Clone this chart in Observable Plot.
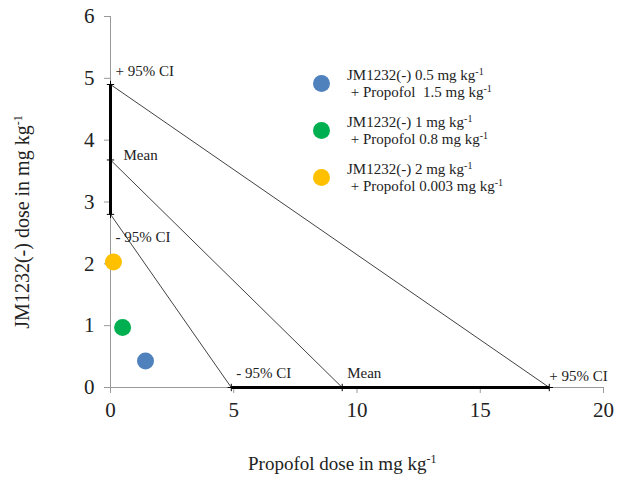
<!DOCTYPE html>
<html>
<head>
<meta charset="utf-8">
<script src="https://cdn.jsdelivr.net/npm/d3@7"></script>
<script src="https://cdn.jsdelivr.net/npm/@observablehq/plot@0.6"></script>
<style>
  body { margin: 0; background: #fff; }
  #wrap { position: relative; width: 617px; height: 477px; font-family: 'Liberation Serif', 'DejaVu Serif', serif; color: #222; }
  #wrap svg text { font-family: 'Liberation Serif', 'DejaVu Serif', serif !important; }
  #legend { position: absolute; left: 313px; top: 67px; font-size: 15px; line-height: 17px; }
  .item { position: relative; padding-left: 34px; margin-bottom: 13px; }
  .sw { position: absolute; left: 0px; top: 8px; width: 17px; height: 17px; border-radius: 50%; }
  sup { font-size: 10px; vertical-align: 5px; line-height: 0; }
  .axlab { position: absolute; font-size: 19px; white-space: nowrap; font-family: 'Liberation Serif', serif; }
  #xlab { left: 248px; top: 453px; }
  #ylab { left: 22px; top: 222px; font-size: 20px; transform: translate(-50%, -50%) rotate(-90deg); }
  #ylab sup, #xlab sup { font-size: 12px; vertical-align: 7px; }
</style>
</head>
<body>
<div id="wrap"><div id="chart"></div><div id="legend"></div>
<div class="axlab" id="xlab"></div><div class="axlab" id="ylab"></div></div>
<script>
// Isobologram: single-drug ED values (intercepts) and combination doses
const isoLabels = ["+ 95% CI", "Mean", "- 95% CI"];
const jmAlone = [4.9, 3.68, 2.8];          // JM1232(-) dose alone, mg/kg (y-intercepts)
const propofolAlone = [17.8, 9.4, 4.9];   // Propofol dose alone, mg/kg (x-intercepts)

const comboJMText = ["0.5", "1", "2"];
const comboPropofolText = ["1.5", "0.8", "0.003"];
const comboPropofol = [1.42, 0.49, 0.12];  // plotted x
const comboJM = [0.43, 0.97, 2.03];        // plotted y
const comboColors = ["#4f81bd", "#00b050", "#ffc000"];

const xTicks = [0, 5, 10, 15, 20];
const yTicks = [0, 1, 2, 3, 4, 5, 6];
const xTitle = "Propofol dose in mg kg";
const yTitle = "JM1232(-) dose in mg kg";
const unitExp = "-1";

const isoLines = isoLabels.map((label, i) => ({label, jm: jmAlone[i], pro: propofolAlone[i]}));
const combos = comboJM.map((y, i) => ({x: comboPropofol[i], y, color: comboColors[i]}));
const yCI = [{y1: d3.min(jmAlone), y2: d3.max(jmAlone)}];
const xCI = [{x1: d3.min(propofolAlone), x2: d3.max(propofolAlone)}];
const yEnds = jmAlone.map(y => ({x: 0, y}));
const xEnds = propofolAlone.map(x => ({x, y: 0}));

const font = "'Liberation Serif', 'DejaVu Serif', serif";
const fs = 15;

const chart = Plot.plot({
  width: 617,
  height: 477,
  marginLeft: 110,
  marginRight: 14,
  marginTop: 16,
  marginBottom: 90,
  style: {fontFamily: font, fontSize: "19px", color: "#222", background: "white"},
  x: {domain: [0, 20]},
  y: {domain: [0, 6]},
  marks: [
    Plot.ruleY([0], {x1: 0, x2: 20, stroke: "#999", strokeWidth: 1}),
    Plot.ruleX([0], {y1: 0, y2: 6, stroke: "#999", strokeWidth: 1}),
    Plot.axisX({ticks: xTicks, tickSize: 6, tickPadding: 9, stroke: "#999", fontSize: 21, fontFamily: font, label: null}),
    Plot.axisY({ticks: yTicks, tickSize: 6, tickPadding: 10, stroke: "#999", fontSize: 21, fontFamily: font, tickFormat: "d", label: null}),
    Plot.link(isoLines, {x1: 0, y1: "jm", x2: "pro", y2: 0, stroke: "#111", strokeWidth: 0.8}),
    Plot.link(yCI, {x1: 0, x2: 0, y1: "y1", y2: "y2", stroke: "#000", strokeWidth: 3}),
    Plot.link(xCI, {x1: "x1", x2: "x2", y1: 0, y2: 0, stroke: "#000", strokeWidth: 3}),
    Plot.dot(yEnds, {x: "x", y: "y", symbol: "plus", r: 2.5, stroke: "#000", strokeWidth: 1}),
    Plot.dot(xEnds, {x: "x", y: "y", symbol: "plus", r: 2.5, stroke: "#000", strokeWidth: 1}),
    Plot.dot(combos, {x: "x", y: "y", r: 8.5, fill: "color", stroke: null}),
    // labels on the y axis
    Plot.text([isoLines[0]], {x: 0, y: "jm", text: "label", textAnchor: "start", dx: 5, dy: -13, fontSize: fs, fontFamily: font}),
    Plot.text([isoLines[1]], {x: 0, y: "jm", text: "label", textAnchor: "start", dx: 13, dy: -5, fontSize: fs, fontFamily: font}),
    Plot.text([isoLines[2]], {x: 0, y: "jm", text: "label", textAnchor: "start", dx: 5, dy: 23, fontSize: fs, fontFamily: font}),
    // labels on the x axis
    Plot.text([isoLines[2]], {x: "pro", y: 0, text: "label", textAnchor: "start", dx: 5, dy: -14, fontSize: fs, fontFamily: font}),
    Plot.text([isoLines[1]], {x: "pro", y: 0, text: "label", textAnchor: "start", dx: 5, dy: -14, fontSize: fs, fontFamily: font}),
    Plot.text([isoLines[0]], {x: "pro", y: 0, text: "label", textAnchor: "start", dx: 0, dy: -11, fontSize: fs, fontFamily: font})
  ]
});
document.getElementById("chart").appendChild(chart);

document.getElementById("xlab").innerHTML = `${xTitle}<sup>${unitExp}</sup>`;
document.getElementById("ylab").innerHTML = `${yTitle}<sup>${unitExp}</sup>`;

const legend = document.getElementById("legend");
comboColors.forEach((c, i) => {
  const item = document.createElement("div");
  item.className = "item";
  item.innerHTML = `<span class="sw" style="background:${c}"></span>` +
    `JM1232(-) ${comboJMText[i]} mg kg<sup>${unitExp}</sup><br>&nbsp;+ Propofol ${i === 0 ? "&nbsp;" : ""}${comboPropofolText[i]} mg kg<sup>${unitExp}</sup>`;
  legend.appendChild(item);
});
</script>
</body>
</html>
